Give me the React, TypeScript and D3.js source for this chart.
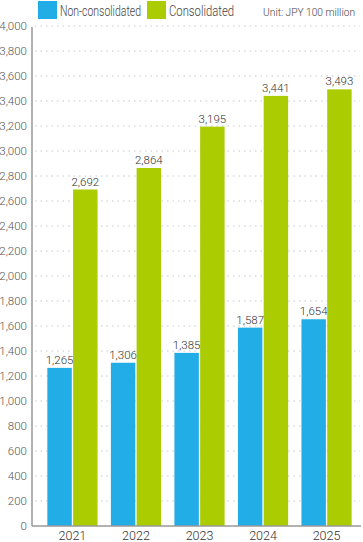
import React from "react";
import * as d3 from "d3";

const years = ["2021", "2022", "2023", "2024", "2025"];
const nonConsolidated = [1265, 1306, 1385, 1587, 1654];
const consolidated = [2692, 2864, 3195, 3441, 3493];
const yTicks = d3.range(0, 4001, 200);
const seriesNames = ["Non-consolidated", "Consolidated"];
const seriesColors = ["#22ade6", "#aacc00"];

const W = 363;
const H = 542;
const FONT = "Roboto, 'Liberation Sans', sans-serif";

export default function App() {
  const y = d3.scaleLinear().domain([0, 4000]).range([526, 26]);
  const x = d3.scaleBand().domain(years).range([41, 358]).paddingInner(0.21).paddingOuter(0.1);
  const inner = d3.scaleBand().domain(["0", "1"]).range([0, x.bandwidth()]).paddingInner(0.05);
  const fmt = d3.format(",");
  const series = [nonConsolidated, consolidated];

  return (
    <div style={{ position: "absolute", left: 0, top: 0 }}>
      <svg width={W} height={H} style={{ display: "block", fontFamily: FONT, fontWeight: 300 }}>
        {/* grid */}
        {yTicks.slice(1).map((t) => (
          <line key={t} x1={35} x2={360} y1={y(t)} y2={y(t)} stroke="#c8c8c8" strokeDasharray="1.5,4" />
        ))}
        {/* y tick labels */}
        {yTicks.map((t) => (
          <text key={t} x={27} y={y(t) + 4} textAnchor="end" fontSize={11.5} fill="#555">
            {fmt(t)}
          </text>
        ))}
        {/* bars */}
        {years.map((yr, i) => (
          <g key={yr} transform={`translate(${x(yr)},0)`}>
            {series.map((s, j) => (
              <g key={j}>
                <rect
                  x={inner(String(j))}
                  y={y(s[i])}
                  width={inner.bandwidth()}
                  height={y(0) - y(s[i])}
                  fill={seriesColors[j]}
                />
                <text
                  x={(inner(String(j)) ?? 0) + inner.bandwidth() / 2}
                  y={y(s[i]) - 4}
                  textAnchor="middle"
                  fontSize={11.5}
                  fill="#333"
                >
                  {fmt(s[i])}
                </text>
              </g>
            ))}
            <text x={x.bandwidth() / 2} y={540} textAnchor="middle" fontSize={12.5} fill="#333">
              {yr}
            </text>
          </g>
        ))}
        {/* axes */}
        <line x1={32} x2={32} y1={27} y2={526} stroke="#999" strokeWidth={1.5} />
        <line x1={32} x2={361} y1={526} y2={526} stroke="#999" strokeWidth={1.5} />
        {/* legend */}
        <rect x={38} y={1} width={19} height={18} fill={seriesColors[0]} />
        <text x={60} y={16} fontSize={14} fill="#444" textLength={81} lengthAdjust="spacingAndGlyphs">
          {seriesNames[0]}
        </text>
        <rect x={147} y={1} width={19} height={18} fill={seriesColors[1]} />
        <text x={169} y={16} fontSize={14} fill="#444" textLength={65} lengthAdjust="spacingAndGlyphs">
          {seriesNames[1]}
        </text>
        <text x={355} y={16} textAnchor="end" fontSize={10.2} fill="#444">
          Unit: JPY 100 million
        </text>
      </svg>
    </div>
  );
}
